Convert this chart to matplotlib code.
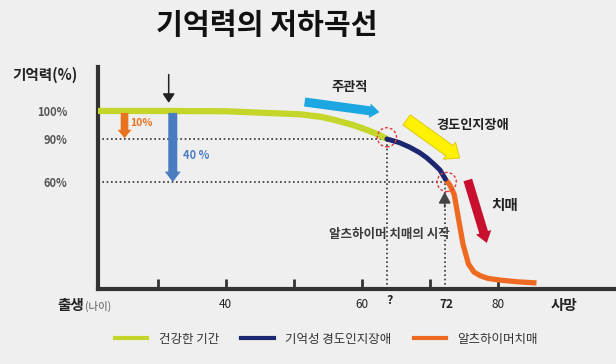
import numpy as np
import matplotlib
matplotlib.use('Agg')
import matplotlib.pyplot as plt
import matplotlib.transforms as mtransforms
from matplotlib.lines import Line2D

plt.rcParams['font.family'] = ['Noto Sans CJK KR', 'DejaVu Sans']

# curve data (age, memory %)
healthy_age = [21.2, 30, 40, 46, 51, 54, 56, 58.7, 61, 62.6, 63.7]
healthy_mem = [100, 100, 99.9, 99.3, 98.8, 97.9, 96.8, 95, 93, 91.4, 90]
mci_age = [63.7, 65.5, 67, 68.5, 69.6, 70.6, 71.5, 72.3]
mci_mem = [90, 87.5, 84.4, 80.5, 76.7, 72.5, 68.4, 62]
ad_age = [72.3, 73, 73.6, 74.2, 74.9, 75.7, 76.5, 77.4, 78.5, 80.3, 83, 85.7]
ad_mem = [62, 58, 53, 40, 25, 14, 9.5, 7.5, 6, 5, 4, 3.4]

x_ticks = [30, 40, 50, 60, 70, 80]
x_labels = ['', '40', '', '60', '', '80']
y_ticks = [60, 90, 100]
y_labels = ['60%', '90%', '100%']
mci_onset = 63.7
ad_onset = 72.3
legend_labels = ['건강한 기간', '기억성 경도인지장애', '알츠하이머치매']

c_green = '#c5d62a'
c_navy = '#1b2770'
c_orange = '#ee6a22'
bg = '#efefef'

# the y axis of the original is not linear
_p = [0, 60, 90, 100, 130]
_h = [0, 107, 150, 178, 262]


def fwd(v):
    return np.interp(v, _p, _h)


def inv(v):
    return np.interp(v, _h, _p)


fig = plt.figure(figsize=(6.16, 3.64), dpi=100, facecolor=bg)
ax = fig.add_axes([98 / 616, 75 / 364, 518 / 616, 222 / 364])
ax.set_facecolor(bg)
ax.set_yscale('function', functions=(fwd, inv))
ax.set_xlim(21.2, 97.4)
ax.set_ylim(0, 115.7)

for s in ['top', 'right']:
    ax.spines[s].set_visible(False)
for s in ['left', 'bottom']:
    ax.spines[s].set_color('#333333')
    ax.spines[s].set_linewidth(3)

ax.set_xticks(x_ticks)
ax.set_xticklabels([])
ax.tick_params(axis='x', direction='in', length=7, width=2, color='#333333')
ax.set_yticks(y_ticks)
ax.set_yticklabels(y_labels, fontsize=8, fontweight='bold', color='#555555')
ax.tick_params(axis='y', length=0, pad=22)
ax.yaxis.set_minor_locator(plt.NullLocator())

# dotted guides
dot = dict(color='#333333', lw=1.2, ls=(0, (1, 1.6)), zorder=1)
ax.plot([21.2, mci_onset], [90, 90], **dot)
ax.plot([21.2, ad_onset], [60, 60], **dot)
ax.plot([mci_onset, mci_onset], [0, 90], **dot)
ax.plot([ad_onset - 0.1, ad_onset - 0.1], [0, 60], **dot)

# curves
ax.plot(healthy_age, healthy_mem, color=c_green, lw=4.5, solid_capstyle='butt', zorder=3)
ax.plot(mci_age, mci_mem, color=c_navy, lw=3.6, solid_capstyle='round', zorder=4)
ax.plot(ad_age, ad_mem, color=c_orange, lw=3.8, solid_capstyle='butt', zorder=3, clip_on=False)

# dashed red circles at transitions
ax.scatter([mci_onset, ad_onset + 0.2], [90.6, 60], s=190, facecolors='none',
           edgecolors='#e03a3a', linewidths=1.0, linestyles=(0, (2, 1.5)), zorder=5)


def fat_arrow(x0, y0, x1, y1, color, tail, head, hlen, ec='none'):
    ax.annotate('', xy=(x1, y1), xytext=(x0, y0), annotation_clip=False,
                arrowprops=dict(arrowstyle='simple,head_length=%s,head_width=%s,tail_width=%s'
                                % (hlen, head, tail),
                                fc=color, ec=ec, lw=0.6, shrinkA=0, shrinkB=0,
                                mutation_scale=10), zorder=6)


# small black marker arrow
ax.annotate('', xy=(31.6, 102.9), xytext=(31.6, 113), annotation_clip=False,
            arrowprops=dict(arrowstyle='-|>,head_length=0.45,head_width=0.3', color='#222222',
                            lw=1.1, shrinkA=0, shrinkB=0, mutation_scale=12))

fat_arrow(25.1, 99.3, 25.1, 90.3, '#e8731e', 0.55, 1.0, 0.6)
ax.text(25.9, 95.7, '10%', color='#e8731e', fontsize=7.5, fontweight='bold', va='center')
fat_arrow(32.2, 99.3, 32.2, 60, '#4a7cc0', 0.65, 1.15, 0.75)
ax.text(33.7, 78.8, '40 %', color='#4a7cc0', fontsize=8, fontweight='bold', va='center')

fat_arrow(51.6, 103.2, 62.6, 99.6, '#1ca6e2', 0.65, 1.05, 0.7)
ax.text(58.2, 108.6, '주관적', fontsize=9.5, fontweight='bold', ha='center', va='center',
        color='#222222')

fat_arrow(66.6, 96.8, 74.4, 76.7, '#fff200', 0.9, 1.5, 0.9, ec='#d9c400')
ax.text(71.0, 95.0, '경도인지장애', fontsize=9.5, fontweight='bold', va='center',
        color='#222222')

fat_arrow(75.6, 61.4, 78.4, 25.8, '#c8102e', 0.65, 1.15, 0.8)
ax.text(79.1, 47.1, '치매', fontsize=10.5, fontweight='bold', va='center', color='#222222')

ax.annotate('', xy=(ad_onset - 0.1, 54.4), xytext=(ad_onset - 0.1, 46), annotation_clip=False,
            arrowprops=dict(arrowstyle='-|>,head_length=0.55,head_width=0.3', color='#444444',
                            lw=1.2, shrinkA=0, shrinkB=0, mutation_scale=12))
ax.text(64.1, 30.3, '알츠하이머 치매의 시작', fontsize=9, fontweight='bold', ha='center',
        va='center', color='#3a3a3a')

# x labels under the axis
tr = mtransforms.blended_transform_factory(ax.transData, fig.transFigure)
yl = 1 - 305 / 364
for xv, lab in zip(x_ticks, x_labels):
    if lab:
        fig.text(xv, yl, lab, transform=tr, fontsize=8.5, ha='center', va='center',
                 color='#222222')
fig.text(mci_onset + 0.4, yl + 0.012, '?', transform=tr, fontsize=9, fontweight='bold',
         ha='center', va='center', color='#222222')
fig.text(ad_onset + 0.2, yl, '72', transform=tr, fontsize=8.5, fontweight='bold',
         ha='center', va='center', color='#222222')
fig.text(564 / 616, yl, '사망', fontsize=10.5, fontweight='bold', ha='center', va='center',
         color='#222222')
fig.text(57 / 616, yl, '출생', fontsize=10.5, fontweight='bold', ha='left', va='center',
         color='#222222')
fig.text(85 / 616, yl - 0.004, '(나이)', fontsize=7.5, ha='left', va='center', color='#555555')

fig.text(12 / 616, 1 - 75 / 364, '기억력(%)', fontsize=10.5, fontweight='bold', ha='left',
         va='center', color='#222222')
fig.text(267 / 616, 1 - 25 / 364, '기억력의 저하곡선', fontsize=21, ha='center', va='center',
         color='#111111', fontweight='bold')

handles = [Line2D([], [], color=c, lw=3) for c in [c_green, c_navy, c_orange]]
fig.legend(handles, legend_labels, loc='center', bbox_to_anchor=(0.53, 1 - 339 / 364),
           ncol=3, frameon=False, fontsize=9, handlelength=2.6, handletextpad=0.9,
           columnspacing=1.8, labelcolor='#333333')

fig.savefig('out.png', dpi=100, facecolor=bg)
